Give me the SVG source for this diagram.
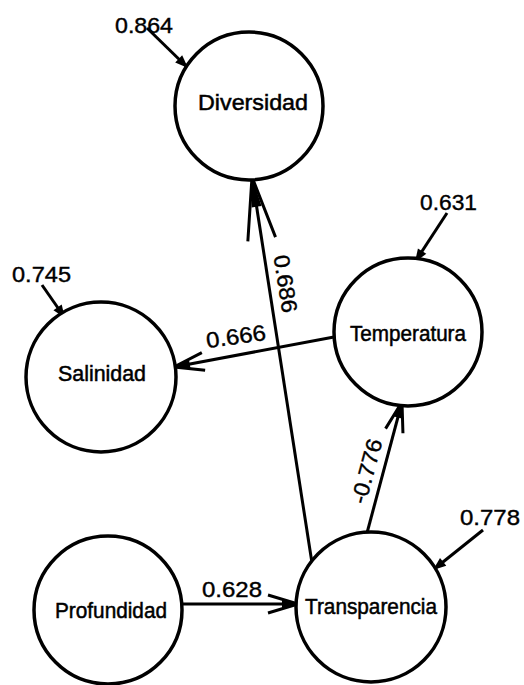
<svg xmlns="http://www.w3.org/2000/svg" width="524" height="685" viewBox="0 0 524 685">
<style>
.node{fill:#fff;stroke:#000;stroke-width:3.5}
.lbl{font-family:"Liberation Sans",Arial,sans-serif;font-size:22px;fill:#000;stroke:#000;stroke-width:0.5;text-anchor:middle}
.num{font-family:"Liberation Sans",Arial,sans-serif;font-size:22px;fill:#000;stroke:#000;stroke-width:0.4}
.edge{stroke:#000;stroke-width:3;fill:none}
</style>
<defs>
<marker id="openLong" markerUnits="userSpaceOnUse" orient="auto" refX="0" refY="0" markerWidth="80" markerHeight="40" viewBox="-70 -20 80 40" overflow="visible">
<path d="M-63,-14 L0,0 L-63,14" fill="none" stroke="#000" stroke-width="3"/>
<path d="M-30,-5 L0,0 L-30,5 Z" fill="#000"/>
</marker>
<marker id="open" markerUnits="userSpaceOnUse" orient="auto" refX="0" refY="0" markerWidth="40" markerHeight="30" viewBox="-35 -15 40 30" overflow="visible">
<path d="M-30,-9 L0,0 L-30,9" fill="none" stroke="#000" stroke-width="3"/>
<path d="M-16,-4 L0,0 L-16,4 Z" fill="#000"/>
</marker>
<marker id="filled" markerUnits="userSpaceOnUse" orient="auto" refX="0" refY="0" markerWidth="20" markerHeight="14" viewBox="-16 -7 20 14" overflow="visible">
<path d="M-13,-5 L0,0 L-13,5 Z" fill="#000"/>
</marker>
</defs>

<g id="connectors">
<path class="edge" d="M312,563 L252,177" marker-end="url(#openLong)"/>
<path class="edge" d="M334,337 L174,367" marker-end="url(#open)"/>
<path class="edge" d="M367,533 L402,402" marker-end="url(#open)"/>
<path class="edge" d="M183,604 L298,604" marker-end="url(#open)"/>
<path class="edge" d="M147,28 L188,68" marker-end="url(#filled)"/>
<path class="edge" d="M42,285 L65,318" marker-end="url(#filled)"/>
<path class="edge" d="M447,213 L415,262" marker-end="url(#filled)"/>
<path class="edge" d="M483,530 L433,570" marker-end="url(#filled)"/>
<text class="num" x="115" y="33" textLength="58" lengthAdjust="spacingAndGlyphs">0.864</text>
<text class="num" x="12" y="282" textLength="59" lengthAdjust="spacingAndGlyphs">0.745</text>
<text class="num" x="420" y="210" textLength="57" lengthAdjust="spacingAndGlyphs">0.631</text>
<text class="num" x="460" y="525" textLength="60" lengthAdjust="spacingAndGlyphs">0.778</text>
<text class="num" x="202" y="597" textLength="60" lengthAdjust="spacingAndGlyphs">0.628</text>
<text class="num" transform="translate(237,344) rotate(-8)" x="0" y="0" text-anchor="middle" textLength="60" lengthAdjust="spacingAndGlyphs">0.666</text>
<text class="num" transform="translate(278,285) rotate(81)" x="0" y="0" text-anchor="middle" textLength="58" lengthAdjust="spacingAndGlyphs">0.686</text>
<text class="num" transform="translate(374,473) rotate(-75)" x="0" y="0" text-anchor="middle" textLength="66" lengthAdjust="spacingAndGlyphs">-0.776</text>
</g>

<g id="diversidad">
<circle class="node" cx="249" cy="106" r="74"/>
<text class="lbl" x="253" y="110" textLength="110" lengthAdjust="spacingAndGlyphs">Diversidad</text>
</g>
<g id="salinidad">
<circle class="node" cx="101" cy="377" r="75"/>
<text class="lbl" x="102" y="381" textLength="88" lengthAdjust="spacingAndGlyphs">Salinidad</text>
</g>
<g id="temperatura">
<circle class="node" cx="408" cy="332" r="74"/>
<text class="lbl" x="408" y="341" textLength="116" lengthAdjust="spacingAndGlyphs">Temperatura</text>
</g>
<g id="profundidad">
<circle class="node" cx="108" cy="610" r="74"/>
<text class="lbl" x="111" y="618" textLength="112" lengthAdjust="spacingAndGlyphs">Profundidad</text>
</g>
<g id="transparencia">
<circle class="node" cx="371" cy="607" r="75"/>
<text class="lbl" x="371" y="614" textLength="132" lengthAdjust="spacingAndGlyphs">Transparencia</text>
</g>
</svg>
